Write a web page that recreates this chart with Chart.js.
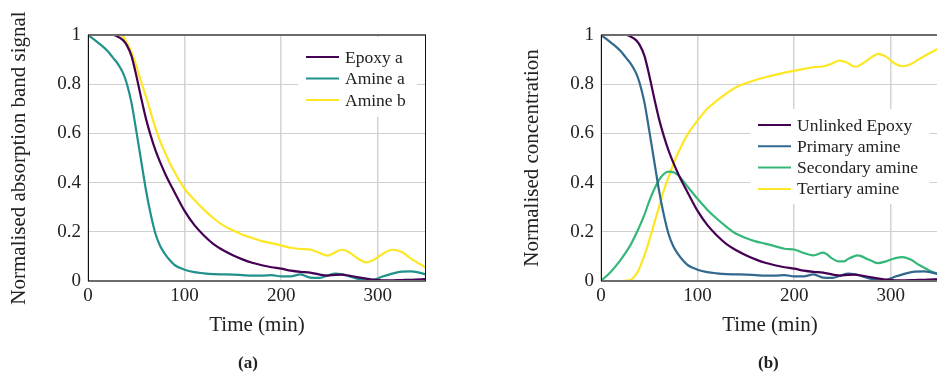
<!DOCTYPE html>
<html>
<head>
<meta charset="utf-8">
<script src="https://cdn.jsdelivr.net/npm/chart.js@4.4.1/dist/chart.umd.min.js"></script>
<style>
  body { margin: 0; width: 937px; height: 374px; overflow: hidden; background: #fff; position: relative; }
  .box { position: absolute; top: 0; height: 374px; }
  #boxA { left: 0; width: 470px; }
  #boxB { left: 470px; width: 480px; }
  .cap { position: absolute; top: 353px; font: bold 17px "Liberation Serif", serif; color: #222; }
</style>
</head>
<body>
<div class="box" id="boxA"><canvas id="chartA" width="470" height="374"></canvas></div>
<div class="box" id="boxB"><canvas id="chartB" width="480" height="374"></canvas></div>
<div class="cap" style="left:238px">(a)</div>
<div class="cap" style="left:758px">(b)</div>
<script>
// time (min) and curves
const timeA = [0, 10, 20, 26, 30, 36, 40, 45, 50, 55, 60, 65, 70, 75, 80, 85, 90, 100, 110, 120, 130, 140, 150, 160, 170, 180, 190, 200, 210, 220, 230, 240, 248, 256, 263, 270, 280, 288, 295, 305, 315, 325, 335, 350];
const epoxyA = [1, 1, 1, 1, 0.995, 0.98, 0.96, 0.915, 0.835, 0.745, 0.66, 0.59, 0.53, 0.48, 0.435, 0.395, 0.358, 0.285, 0.228, 0.185, 0.15, 0.125, 0.105, 0.088, 0.074, 0.064, 0.056, 0.05, 0.042, 0.037, 0.034, 0.026, 0.022, 0.025, 0.026, 0.022, 0.015, 0.01, 0.006, 0.003, 0.003, 0.004, 0.005, 0.008];
const amineA = [1, 0.97, 0.936, 0.907, 0.888, 0.848, 0.805, 0.725, 0.61, 0.49, 0.37, 0.27, 0.19, 0.14, 0.108, 0.083, 0.064, 0.046, 0.036, 0.031, 0.028, 0.027, 0.026, 0.024, 0.022, 0.022, 0.024, 0.019, 0.019, 0.027, 0.014, 0.013, 0.022, 0.03, 0.027, 0.02, 0.008, 0.003, 0.004, 0.018, 0.03, 0.038, 0.039, 0.027];
const amineB = [1, 1, 1, 1, 1, 0.995, 0.97, 0.93, 0.875, 0.81, 0.75, 0.685, 0.62, 0.565, 0.52, 0.477, 0.44, 0.375, 0.33, 0.29, 0.255, 0.226, 0.206, 0.188, 0.175, 0.162, 0.154, 0.145, 0.135, 0.13, 0.128, 0.114, 0.103, 0.117, 0.127, 0.118, 0.09, 0.076, 0.084, 0.11, 0.127, 0.118, 0.09, 0.054];

const timeB = [0, 10, 20, 25, 30, 32, 38, 45, 50, 55, 60, 65, 70, 75, 80, 90, 100, 110, 120, 130, 140, 150, 160, 170, 180, 190, 200, 210, 220, 230, 240, 246, 252, 256, 262, 265, 270, 275, 280, 287, 295, 305, 312, 320, 330, 340, 350];
const secondaryAmine = [0, 0.037, 0.084, 0.112, 0.143, 0.157, 0.205, 0.27, 0.325, 0.372, 0.41, 0.435, 0.445, 0.442, 0.43, 0.382, 0.334, 0.29, 0.253, 0.22, 0.192, 0.175, 0.161, 0.152, 0.142, 0.131, 0.128, 0.114, 0.104, 0.115, 0.09, 0.08, 0.08, 0.09, 0.1, 0.104, 0.1, 0.09, 0.082, 0.073, 0.08, 0.093, 0.097, 0.088, 0.064, 0.043, 0.027];
const tertiaryAmine = [0, 0, 0, 0.001, 0.004, 0.008, 0.037, 0.104, 0.165, 0.233, 0.3, 0.368, 0.422, 0.476, 0.522, 0.598, 0.652, 0.7, 0.733, 0.763, 0.788, 0.804, 0.817, 0.828, 0.838, 0.847, 0.854, 0.862, 0.869, 0.872, 0.885, 0.896, 0.892, 0.885, 0.872, 0.872, 0.882, 0.895, 0.909, 0.923, 0.912, 0.882, 0.873, 0.88, 0.903, 0.926, 0.946];
// unlinked epoxy / primary amine follow the same curves as panel (a)
const unlinkedEpoxy = epoxyA;
const primaryAmine = amineA;

const xTicks = [0, 100, 200, 300];
const yTicks = [0, 0.2, 0.4, 0.6, 0.8, 1];

const FONT = '"Liberation Serif", serif';

function pts(xs, ys) {
    return xs.map((x, i) => ({ x: x, y: ys[i] }));
}

const framePlugin = {
    id: 'frame',
    afterDatasetsDraw(chart) {
        const { ctx, chartArea: a } = chart;
        ctx.save();
        ctx.strokeStyle = '#6b6b6b';
        ctx.lineWidth = 2;
        ctx.beginPath();
        ctx.moveTo(a.left, a.top); ctx.lineTo(a.right, a.top);
        ctx.moveTo(a.left, a.bottom); ctx.lineTo(a.right, a.bottom);
        ctx.stroke();
        ctx.strokeStyle = '#111';
        ctx.lineWidth = 1;
        ctx.beginPath();
        ctx.moveTo(a.left + 0.5, a.top); ctx.lineTo(a.left + 0.5, a.bottom);
        ctx.moveTo(a.right - 0.5, a.top); ctx.lineTo(a.right - 0.5, a.bottom);
        ctx.stroke();
        ctx.restore();
    }
};

const boxLegend = {
    id: 'boxLegend',
    afterDatasetsDraw(chart, args, opts) {
        const ctx = chart.ctx;
        ctx.save();
        ctx.fillStyle = '#fff';
        ctx.fillRect(opts.x, opts.y, opts.w, opts.h);
        ctx.font = '17.5px ' + FONT;
        ctx.textBaseline = 'middle';
        chart.data.datasets.forEach((ds, i) => {
            const yy = opts.y + opts.first + i * opts.rowH;
            ctx.strokeStyle = ds.borderColor;
            ctx.lineWidth = 2;
            ctx.beginPath();
            ctx.moveTo(opts.x + 8, yy);
            ctx.lineTo(opts.x + 41, yy);
            ctx.stroke();
            ctx.fillStyle = '#222';
            ctx.fillText(ds.label, opts.x + 47, yy + 1);
        });
        ctx.restore();
    }
};

function makeChart(id, datasets, yTitle, padLeft, padRight, legendOpts) {
    const ctx = document.getElementById(id).getContext('2d');
    return new Chart(ctx, {
        type: 'line',
        data: { datasets: datasets },
        options: {
            responsive: false,
            animation: false,
            layout: { padding: { left: padLeft, right: padRight, top: 35, bottom: 29 } },
            elements: {
                point: { radius: 0 },
                line: { borderWidth: 2.2, cubicInterpolationMode: 'monotone' }
            },
            plugins: {
                legend: { display: false },
                tooltip: { enabled: false },
                boxLegend: legendOpts
            },
            scales: {
                x: {
                    type: 'linear',
                    min: 0,
                    max: 350,
                    afterBuildTicks: (s) => { s.ticks = xTicks.map(v => ({ value: v })); },
                    afterFit: (s) => { s.height = 64; },
                    grid: { color: '#d4d4d4', lineWidth: 1.5, drawTicks: false },
                    border: { display: false },
                    ticks: { color: '#222', padding: 4, font: { family: FONT, size: 19 } },
                    title: { display: true, text: 'Time (min)', color: '#222', padding: { top: 0, bottom: 7 }, font: { family: FONT, size: 21 } }
                },
                y: {
                    min: 0,
                    max: 1,
                    afterBuildTicks: (s) => { s.ticks = yTicks.map(v => ({ value: v })); },
                    afterFit: (s) => { s.width = 88; },
                    grid: { color: '#cfcfcf', lineWidth: 1, drawTicks: false },
                    border: { display: false },
                    ticks: { color: '#222', padding: 7, font: { family: FONT, size: 19 }, callback: (v) => String(v) },
                    title: { display: true, text: yTitle, color: '#222', padding: { top: 7, bottom: 0 }, font: { family: FONT, size: 21 } }
                }
            }
        },
        plugins: [framePlugin, boxLegend]
    });
}

makeChart('chartA', [
    { label: 'Epoxy a', data: pts(timeA, epoxyA), borderColor: '#440154' },
    { label: 'Amine a', data: pts(timeA, amineA), borderColor: '#21918c' },
    { label: 'Amine b', data: pts(timeA, amineB), borderColor: '#fde725' }
], 'Normalised absorption band signal', 0, 44,
   { x: 298, y: 37, w: 119, h: 80, first: 20, rowH: 21.5 });

makeChart('chartB', [
    { label: 'Unlinked Epoxy', data: pts(timeA, unlinkedEpoxy), borderColor: '#440154' },
    { label: 'Primary amine', data: pts(timeA, primaryAmine), borderColor: '#31688e' },
    { label: 'Secondary amine', data: pts(timeB, secondaryAmine), borderColor: '#35b779' },
    { label: 'Tertiary amine', data: pts(timeB, tertiaryAmine), borderColor: '#fde725' }
], 'Normalised concentration', 43, 11,
   { x: 280, y: 109, w: 180, h: 95, first: 16, rowH: 21.3 });
</script>
</body>
</html>
